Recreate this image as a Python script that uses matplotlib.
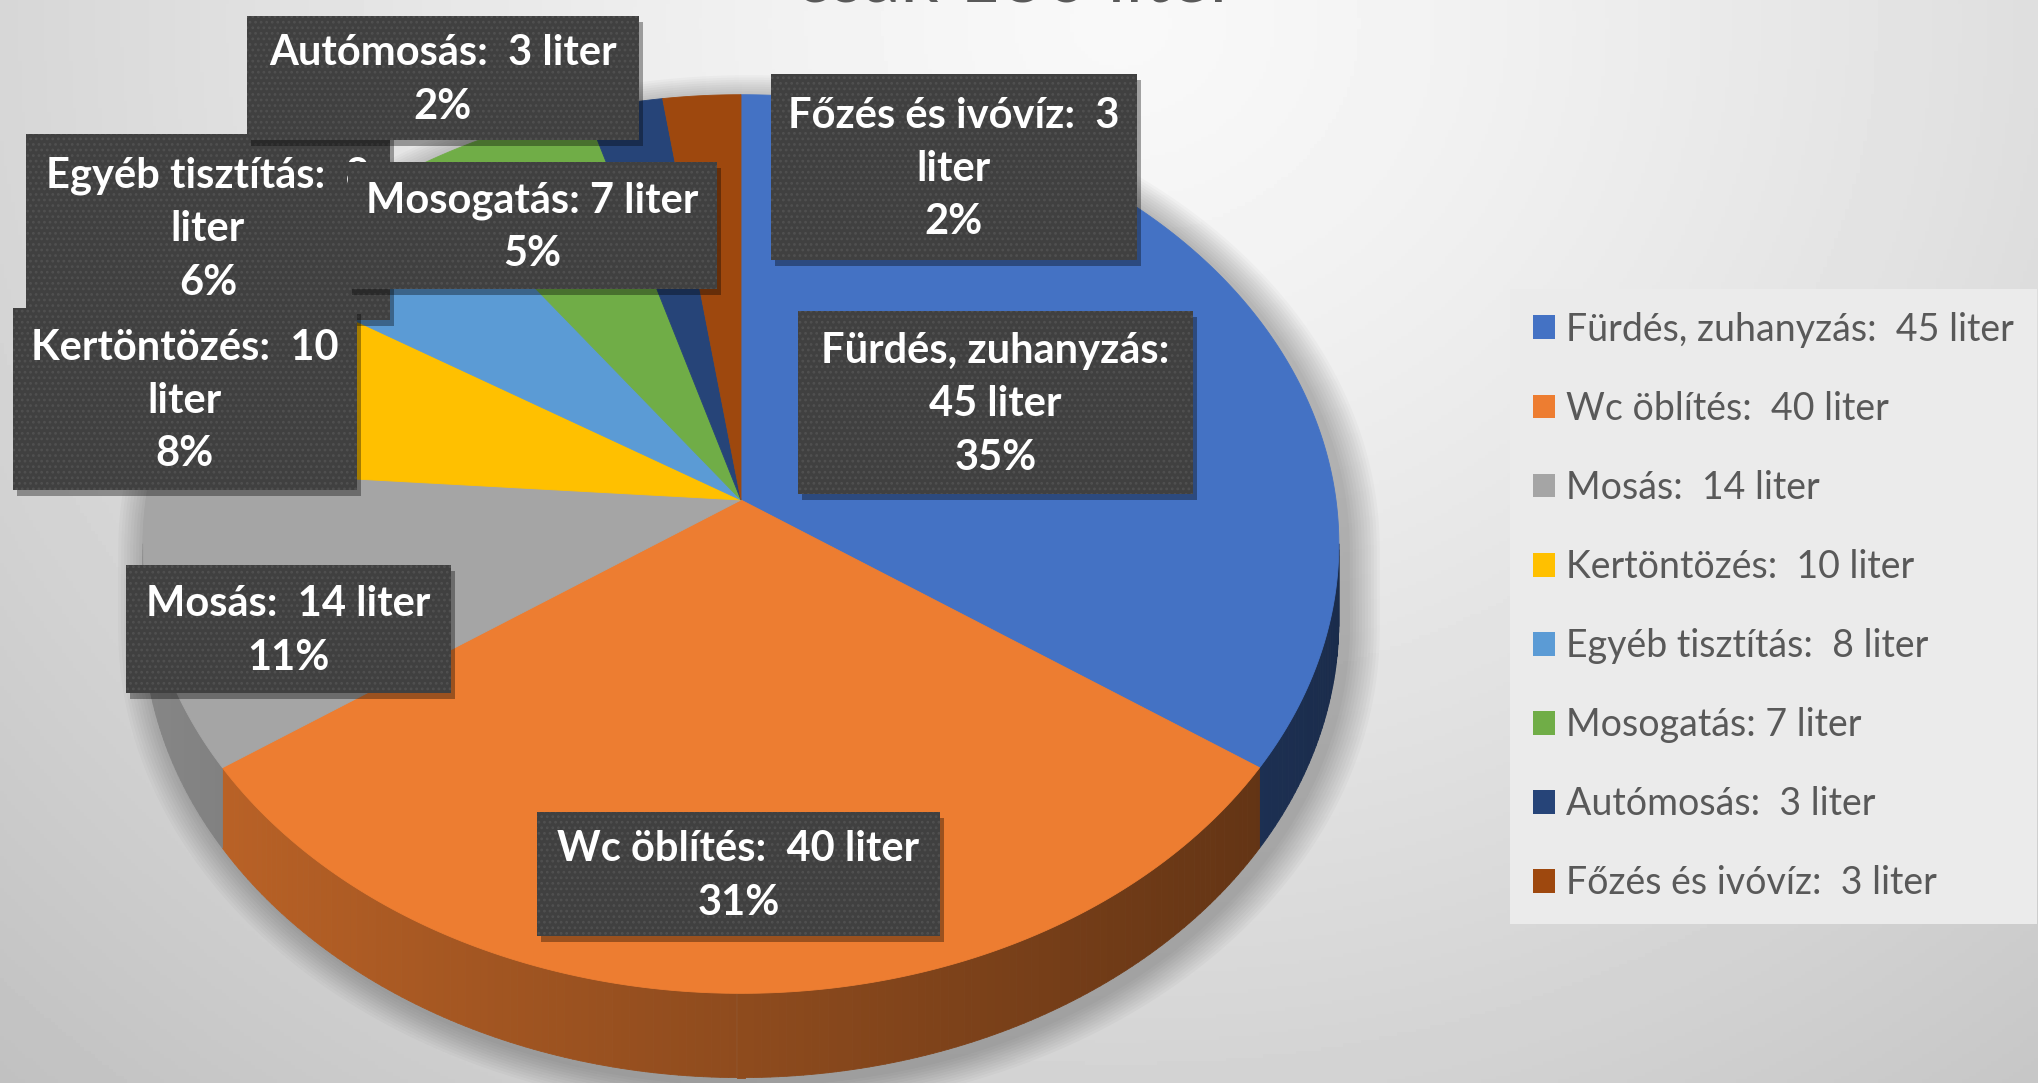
import textwrap
import numpy as np
import matplotlib
matplotlib.use("Agg")
import matplotlib.pyplot as plt
from matplotlib.patches import Polygon, Rectangle, Patch
from matplotlib.collections import PolyCollection
import matplotlib.colors as mcolors

plt.rcParams['font.family'] = ['Lato', 'DejaVu Sans']
plt.rcParams['hatch.linewidth'] = 1.2

# data
categories = ["Fürdés, zuhanyzás:  45 liter", "Wc öblítés:  40 liter", "Mosás:  14 liter",
              "Kertöntözés:  10 liter", "Egyéb tisztítás:  8 liter", "Mosogatás: 7 liter",
              "Autómosás:  3 liter", "Főzés és ivóvíz:  3 liter"]
liters = [45, 40, 14, 10, 8, 7, 3, 3]
colors = ['#4472C4', '#ED7D31', '#A5A5A5', '#FFC000', '#5B9BD5', '#70AD47', '#264478', '#9E480E']
title = "csak 130 liter"

# layout (pixels)
W, H = 2038, 1083
cx, cy = 741, 500
rx, ry = 595, 445
k = 0.098          # perspective strength
depth = 76
label_boxes = [(798, 311, 1193, 494), (537, 812, 940, 936), (126, 565, 451, 693),
               (13, 308, 357, 490), (26, 134, 390, 320), (348, 162, 717, 289),
               (247, 16, 639, 140), (771, 74, 1137, 260)]
label_z = [10, 10, 10, 12, 10, 13, 11, 10]
wrap_widths = [18, 40, 40, 17, 19, 40, 40, 19]

fig = plt.figure(figsize=(W / 100, H / 100), dpi=100)
ax = fig.add_axes([0, 0, 1, 1])

# background gradient
yy, xx = np.mgrid[0:1:300j, 0:1:560j]
r = np.sqrt(((xx - 0.55) / 0.6) ** 2 + ((yy - 0.02) / 1.0) ** 2)
bg = 0.975 - 0.15 * np.clip(r, 0, 1.4) ** 1.3
ax.imshow(bg, extent=(0, W, H, 0), cmap='gray', vmin=0, vmax=1, aspect='auto', zorder=0)


def proj(t, drop=0.0):
    u = np.sin(t)
    v = -np.cos(t)
    w = 1 - k * v
    return cx + rx * u / w, cy + (ry * v + drop) / w


total = sum(liters)
edges = np.concatenate([[0], np.cumsum(liters)]) / total * 2 * np.pi

tt = np.linspace(0, 2 * np.pi, 3601)
X, _ = proj(tt)
t_r, t_l = tt[np.argmax(X)], tt[np.argmin(X)]

# soft shadow around pie
back = np.linspace(t_l, t_r + 2 * np.pi, 300)
front = np.linspace(t_r, t_l, 300)
bx, by = proj(back)
fx, fy = proj(front, depth)
ox = np.concatenate([bx, fx])
oy = np.concatenate([by, fy])
for s in range(1, 12):
    f = 1 + 0.005 * s
    ax.add_patch(Polygon(np.column_stack([cx + (ox - cx) * f + 8, cy + 60 + (oy - cy - 60) * f + 6]),
                         closed=True, facecolor='black', edgecolor='none', alpha=0.022, zorder=1))

# pie sides
for i in range(len(liters)):
    lo, hi = max(edges[i], t_r), min(edges[i + 1], t_l)
    if hi <= lo:
        continue
    ts = np.linspace(lo, hi, max(3, int((hi - lo) * 80)))
    x1, y1 = proj(ts)
    x2, y2 = proj(ts, depth)
    quads, cols = [], []
    base = np.array(mcolors.to_rgb(colors[i]))
    for j in range(len(ts) - 1):
        quads.append([(x1[j], y1[j]), (x1[j + 1], y1[j + 1]), (x2[j + 1], y2[j + 1]), (x2[j], y2[j])])
        shade = 0.6 - 0.22 * np.sin((ts[j] + ts[j + 1]) / 2)
        cols.append(np.clip(base * shade, 0, 1))
    ax.add_collection(PolyCollection(quads, facecolors=cols, edgecolors=cols, linewidths=0.6, zorder=2))

# pie top
for i in range(len(liters)):
    ts = np.linspace(edges[i], edges[i + 1], 300)
    x1, y1 = proj(ts)
    pts = np.vstack([[cx, cy], np.column_stack([x1, y1])])
    ax.add_patch(Polygon(pts, closed=True, facecolor=colors[i], edgecolor=colors[i], lw=0.6, zorder=3))

# data labels
for i in range(len(liters)):
    x0, y0, x1, y1 = label_boxes[i]
    z = label_z[i]
    pct = round(100 * liters[i] / total)
    txt = textwrap.fill(categories[i], width=wrap_widths[i]) + "\n" + f"{pct}%"
    ax.add_patch(Rectangle((x0 + 4, y0 + 6), x1 - x0, y1 - y0, facecolor='black', alpha=0.35,
                           edgecolor='none', zorder=z - 0.2))
    ax.add_patch(Rectangle((x0, y0), x1 - x0, y1 - y0, facecolor='#404040', edgecolor='#505050',
                           hatch='...', lw=0, zorder=z - 0.1))
    ax.text((x0 + x1) / 2, (y0 + y1) / 2 + 2, txt, ha='center', va='center', multialignment='center',
            color='white', fontsize=30, fontweight='bold', linespacing=1.5, zorder=z)

# cut-off title
ax.text(1016, 2, title, ha='center', va='baseline', fontsize=54, color='#595959', zorder=5)

# legend
handles = [Patch(facecolor=c, edgecolor='none') for c in colors]
leg = fig.legend(handles, categories, loc='upper left', bbox_to_anchor=(1510 / W, 1 - 289 / H),
                 frameon=True, facecolor='#ebebeb', edgecolor='none', framealpha=1, fancybox=False,
                 fontsize=27, labelspacing=1.15, handlelength=0.6, handleheight=0.6,
                 handletextpad=0.3, borderpad=0.6, borderaxespad=0)
for t in leg.get_texts():
    t.set_color('#595959')

ax.set_xlim(0, W)
ax.set_ylim(H, 0)
ax.axis('off')

fig.savefig("out.png", dpi=100)
